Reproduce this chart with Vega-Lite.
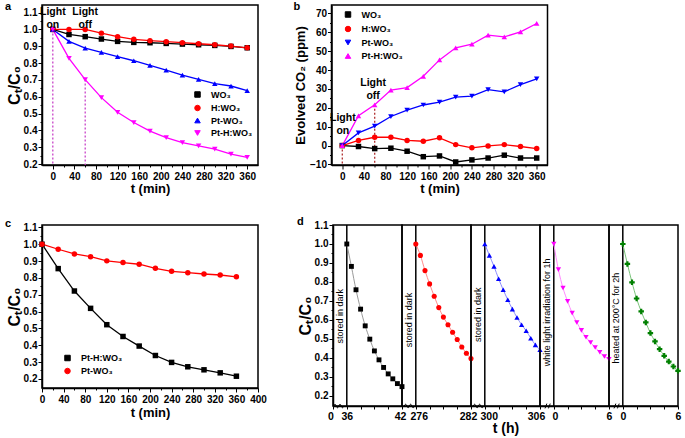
{
"$schema": "https://vega.github.io/schema/vega-lite/v6.json",
"background": "white",
"padding": {"left": 4, "top": 0, "right": 0, "bottom": 0},
"config": {
  "font": "Liberation Sans",
  "view": {"stroke": "black", "strokeWidth": 1.5},
  "axis": {"labelFont": "Liberation Sans", "labelFontWeight": "bold", "labelFontSize": 10, "labelColor": "black", "titleFont": "Liberation Sans", "titleFontWeight": "bold", "titleColor": "black", "domainColor": "black", "domainWidth": 1.5, "tickColor": "black", "tickWidth": 1, "tickSize": 3, "labelPadding": 1, "grid": false, "labelFlush": false, "labelOverlap": false},
  "legend": {"labelFont": "Liberation Sans", "labelFontWeight": "bold", "labelFontSize": 9, "labelColor": "black", "padding": 0, "symbolSize": 30, "symbolStrokeWidth": 1, "symbolOffset": 5, "labelOffset": 9, "rowPadding": 2, "orient": "none"},
  "title": {"font": "Liberation Sans", "fontWeight": "bold", "fontSize": 11, "color": "black", "anchor": "start", "frame": "group", "offset": 2},
  "text": {"font": "Liberation Sans", "color": "black"}
},
"datasets": {
  "a": [
    {"t":0,"v":1.0,"s":"WO₃"},{"t":30,"v":0.970,"s":"WO₃"},{"t":60,"v":0.957,"s":"WO₃"},{"t":90,"v":0.943,"s":"WO₃"},{"t":120,"v":0.929,"s":"WO₃"},{"t":150,"v":0.923,"s":"WO₃"},{"t":180,"v":0.921,"s":"WO₃"},{"t":210,"v":0.917,"s":"WO₃"},{"t":240,"v":0.913,"s":"WO₃"},{"t":270,"v":0.909,"s":"WO₃"},{"t":300,"v":0.905,"s":"WO₃"},{"t":330,"v":0.899,"s":"WO₃"},{"t":360,"v":0.891,"s":"WO₃"},
    {"t":0,"v":1.0,"s":"H:WO₃"},{"t":30,"v":1.0,"s":"H:WO₃"},{"t":60,"v":1.0,"s":"H:WO₃"},{"t":90,"v":0.978,"s":"H:WO₃"},{"t":120,"v":0.957,"s":"H:WO₃"},{"t":150,"v":0.941,"s":"H:WO₃"},{"t":180,"v":0.933,"s":"H:WO₃"},{"t":210,"v":0.927,"s":"H:WO₃"},{"t":240,"v":0.921,"s":"H:WO₃"},{"t":270,"v":0.915,"s":"H:WO₃"},{"t":300,"v":0.909,"s":"H:WO₃"},{"t":330,"v":0.901,"s":"H:WO₃"},{"t":360,"v":0.891,"s":"H:WO₃"},
    {"t":0,"v":1.0,"s":"Pt-WO₃"},{"t":30,"v":0.929,"s":"Pt-WO₃"},{"t":60,"v":0.889,"s":"Pt-WO₃"},{"t":90,"v":0.864,"s":"Pt-WO₃"},{"t":120,"v":0.838,"s":"Pt-WO₃"},{"t":150,"v":0.814,"s":"Pt-WO₃"},{"t":180,"v":0.787,"s":"Pt-WO₃"},{"t":210,"v":0.759,"s":"Pt-WO₃"},{"t":240,"v":0.729,"s":"Pt-WO₃"},{"t":270,"v":0.704,"s":"Pt-WO₃"},{"t":300,"v":0.678,"s":"Pt-WO₃"},{"t":330,"v":0.664,"s":"Pt-WO₃"},{"t":360,"v":0.637,"s":"Pt-WO₃"},
    {"t":0,"v":1.0,"s":"Pt-H:WO₃"},{"t":30,"v":0.828,"s":"Pt-H:WO₃"},{"t":60,"v":0.702,"s":"Pt-H:WO₃"},{"t":90,"v":0.595,"s":"Pt-H:WO₃"},{"t":120,"v":0.508,"s":"Pt-H:WO₃"},{"t":150,"v":0.447,"s":"Pt-H:WO₃"},{"t":180,"v":0.396,"s":"Pt-H:WO₃"},{"t":210,"v":0.358,"s":"Pt-H:WO₃"},{"t":240,"v":0.328,"s":"Pt-H:WO₃"},{"t":270,"v":0.309,"s":"Pt-H:WO₃"},{"t":300,"v":0.289,"s":"Pt-H:WO₃"},{"t":330,"v":0.259,"s":"Pt-H:WO₃"},{"t":360,"v":0.240,"s":"Pt-H:WO₃"}
  ],
  "b": [
    {"t":0,"v":0,"s":"WO₃"},{"t":30,"v":-0.5,"s":"WO₃"},{"t":60,"v":-1.6,"s":"WO₃"},{"t":90,"v":-1.4,"s":"WO₃"},{"t":120,"v":-3.0,"s":"WO₃"},{"t":150,"v":-5.9,"s":"WO₃"},{"t":180,"v":-5.5,"s":"WO₃"},{"t":210,"v":-8.7,"s":"WO₃"},{"t":240,"v":-7.6,"s":"WO₃"},{"t":270,"v":-6.6,"s":"WO₃"},{"t":300,"v":-5.1,"s":"WO₃"},{"t":330,"v":-6.6,"s":"WO₃"},{"t":360,"v":-6.6,"s":"WO₃"},
    {"t":0,"v":0,"s":"H:WO₃"},{"t":30,"v":2.7,"s":"H:WO₃"},{"t":60,"v":4.4,"s":"H:WO₃"},{"t":90,"v":4.4,"s":"H:WO₃"},{"t":120,"v":2.7,"s":"H:WO₃"},{"t":150,"v":2.3,"s":"H:WO₃"},{"t":180,"v":4.1,"s":"H:WO₃"},{"t":210,"v":0.5,"s":"H:WO₃"},{"t":240,"v":-1.2,"s":"H:WO₃"},{"t":270,"v":-0.2,"s":"H:WO₃"},{"t":300,"v":0.5,"s":"H:WO₃"},{"t":330,"v":-0.5,"s":"H:WO₃"},{"t":360,"v":-1.6,"s":"H:WO₃"},
    {"t":0,"v":0,"s":"Pt-WO₃"},{"t":30,"v":6.7,"s":"Pt-WO₃"},{"t":60,"v":10.3,"s":"Pt-WO₃"},{"t":90,"v":15.4,"s":"Pt-WO₃"},{"t":120,"v":18.8,"s":"Pt-WO₃"},{"t":150,"v":21.5,"s":"Pt-WO₃"},{"t":180,"v":23.0,"s":"Pt-WO₃"},{"t":210,"v":25.7,"s":"Pt-WO₃"},{"t":240,"v":26.2,"s":"Pt-WO₃"},{"t":270,"v":29.6,"s":"Pt-WO₃"},{"t":300,"v":28.5,"s":"Pt-WO₃"},{"t":330,"v":32.3,"s":"Pt-WO₃"},{"t":360,"v":35.3,"s":"Pt-WO₃"},
    {"t":0,"v":0,"s":"Pt-H:WO₃"},{"t":30,"v":15.8,"s":"Pt-H:WO₃"},{"t":60,"v":21.6,"s":"Pt-H:WO₃"},{"t":90,"v":29.4,"s":"Pt-H:WO₃"},{"t":120,"v":30.7,"s":"Pt-H:WO₃"},{"t":150,"v":36.7,"s":"Pt-H:WO₃"},{"t":180,"v":45.4,"s":"Pt-H:WO₃"},{"t":210,"v":51.8,"s":"Pt-H:WO₃"},{"t":240,"v":53.7,"s":"Pt-H:WO₃"},{"t":270,"v":58.5,"s":"Pt-H:WO₃"},{"t":300,"v":57.6,"s":"Pt-H:WO₃"},{"t":330,"v":60.3,"s":"Pt-H:WO₃"},{"t":360,"v":64.7,"s":"Pt-H:WO₃"}
  ],
  "c": [
    {"t":0,"v":1.0,"s":"Pt-H:WO₃"},{"t":30,"v":0.855,"s":"Pt-H:WO₃"},{"t":60,"v":0.722,"s":"Pt-H:WO₃"},{"t":90,"v":0.619,"s":"Pt-H:WO₃"},{"t":120,"v":0.522,"s":"Pt-H:WO₃"},{"t":150,"v":0.452,"s":"Pt-H:WO₃"},{"t":180,"v":0.395,"s":"Pt-H:WO₃"},{"t":210,"v":0.339,"s":"Pt-H:WO₃"},{"t":240,"v":0.298,"s":"Pt-H:WO₃"},{"t":270,"v":0.272,"s":"Pt-H:WO₃"},{"t":300,"v":0.254,"s":"Pt-H:WO₃"},{"t":330,"v":0.236,"s":"Pt-H:WO₃"},{"t":360,"v":0.216,"s":"Pt-H:WO₃"},
    {"t":0,"v":1.0,"s":"Pt-WO₃"},{"t":30,"v":0.970,"s":"Pt-WO₃"},{"t":60,"v":0.942,"s":"Pt-WO₃"},{"t":90,"v":0.926,"s":"Pt-WO₃"},{"t":120,"v":0.901,"s":"Pt-WO₃"},{"t":150,"v":0.891,"s":"Pt-WO₃"},{"t":180,"v":0.881,"s":"Pt-WO₃"},{"t":210,"v":0.857,"s":"Pt-WO₃"},{"t":240,"v":0.839,"s":"Pt-WO₃"},{"t":270,"v":0.831,"s":"Pt-WO₃"},{"t":300,"v":0.823,"s":"Pt-WO₃"},{"t":330,"v":0.817,"s":"Pt-WO₃"},{"t":360,"v":0.806,"s":"Pt-WO₃"}
  ],
  "d": [
    {"seg":1,"t":36,"v":1.0},{"seg":1,"t":36.5,"v":0.882},{"seg":1,"t":37,"v":0.759},{"seg":1,"t":37.5,"v":0.657},{"seg":1,"t":38,"v":0.569},{"seg":1,"t":38.5,"v":0.499},{"seg":1,"t":39,"v":0.437},{"seg":1,"t":39.5,"v":0.390},{"seg":1,"t":40,"v":0.350},{"seg":1,"t":40.5,"v":0.316},{"seg":1,"t":41,"v":0.290},{"seg":1,"t":41.5,"v":0.265},{"seg":1,"t":42,"v":0.249},
    {"seg":2,"t":276,"v":1.0},{"seg":2,"t":276.5,"v":0.94},{"seg":2,"t":277,"v":0.86},{"seg":2,"t":277.5,"v":0.79},{"seg":2,"t":278,"v":0.725},{"seg":2,"t":278.5,"v":0.665},{"seg":2,"t":279,"v":0.615},{"seg":2,"t":279.5,"v":0.575},{"seg":2,"t":280,"v":0.535},{"seg":2,"t":280.5,"v":0.497},{"seg":2,"t":281,"v":0.458},{"seg":2,"t":281.5,"v":0.425},{"seg":2,"t":282,"v":0.397},
    {"seg":3,"t":300,"v":1.0},{"seg":3,"t":300.5,"v":0.940},{"seg":3,"t":301,"v":0.882},{"seg":3,"t":301.5,"v":0.817},{"seg":3,"t":302,"v":0.759},{"seg":3,"t":302.5,"v":0.706},{"seg":3,"t":303,"v":0.657},{"seg":3,"t":303.5,"v":0.613},{"seg":3,"t":304,"v":0.575},{"seg":3,"t":304.5,"v":0.543},{"seg":3,"t":305,"v":0.504},{"seg":3,"t":305.5,"v":0.469},{"seg":3,"t":306,"v":0.443},
    {"seg":4,"t":0,"v":1.0},{"seg":4,"t":0.5,"v":0.865},{"seg":4,"t":1,"v":0.768},{"seg":4,"t":1.5,"v":0.698},{"seg":4,"t":2,"v":0.636},{"seg":4,"t":2.5,"v":0.587},{"seg":4,"t":3,"v":0.545},{"seg":4,"t":3.5,"v":0.509},{"seg":4,"t":4,"v":0.481},{"seg":4,"t":4.5,"v":0.455},{"seg":4,"t":5,"v":0.430},{"seg":4,"t":5.5,"v":0.408},{"seg":4,"t":6,"v":0.393},
    {"seg":5,"t":0,"v":1.0},{"seg":5,"t":0.5,"v":0.895},{"seg":5,"t":1,"v":0.798},{"seg":5,"t":1.5,"v":0.713},{"seg":5,"t":2,"v":0.645},{"seg":5,"t":2.5,"v":0.587},{"seg":5,"t":3,"v":0.531},{"seg":5,"t":3.5,"v":0.487},{"seg":5,"t":4,"v":0.446},{"seg":5,"t":4.5,"v":0.411},{"seg":5,"t":5,"v":0.381},{"seg":5,"t":5.5,"v":0.355},{"seg":5,"t":6,"v":0.332}
  ]
},
"resolve": {"scale": {"color": "independent", "shape": "independent"}},
"spacing": 19,
"vconcat": [
 {
  "hconcat": [
   {
    "width": 216, "height": 160,
    "title": {"text": "a", "dx": -37, "dy": 9},
    "data": {"name": "a"},
    "encoding": {
      "x": {"field": "t", "type": "quantitative", "scale": {"domain": [-20, 380], "nice": false, "zero": false},
            "axis": {"values": [0,20,40,60,80,100,120,140,160,180,200,220,240,260,280,300,320,340,360], "labelExpr": "datum.value % 40 === 0 ? format(datum.value,'d') : ''", "tickSize": {"condition": {"test": "datum.value % 40 === 0", "value": 4}, "value": 2}, "title": "t (min)", "titleFontSize": 13, "titlePadding": 1, "labelPadding": 2}},
      "y": {"field": "v", "type": "quantitative", "scale": {"domain": [0.195, 1.145], "nice": false, "zero": false},
            "axis": {"values": [0.2,0.25,0.3,0.35,0.4,0.45,0.5,0.55,0.6,0.65,0.7,0.75,0.8,0.85,0.9,0.95,1.0,1.05,1.1], "labelExpr": "abs(datum.value*10 - round(datum.value*10)) < 0.001 ? format(datum.value,'.1f') : ''", "tickSize": {"condition": {"test": "abs(datum.value*10 - round(datum.value*10)) < 0.001", "value": 4}, "value": 2}, "title": "Cₜ/C₀", "titleFontSize": 16, "titlePadding": 1}}
    },
    "layer": [
      {"data": {"values": [{"t": 0, "v": 1.0}, {"t": 60, "v": 0.702}]}, "mark": {"type": "rule", "color": "#c844c8", "strokeDash": [2, 2], "strokeWidth": 1.3}, "encoding": {"y2": {"datum": 0.195}}},
      {"mark": {"type": "line", "strokeWidth": 1.3}, "encoding": {"color": {"field": "s", "type": "nominal", "scale": {"domain": ["WO₃","H:WO₃","Pt-WO₃","Pt-H:WO₃"], "range": ["black","#ff0000","#0000ff","#ff00ff"]},
        "legend": {"title": null, "legendX": 146, "legendY": 85, "rowPadding": 2.5}}}},
      {"mark": {"type": "point", "filled": true, "size": 30, "opacity": 1}, "encoding": {
        "color": {"field": "s", "type": "nominal", "scale": {"domain": ["WO₃","H:WO₃","Pt-WO₃","Pt-H:WO₃"], "range": ["black","#ff0000","#0000ff","#ff00ff"]}, "legend": null},
        "shape": {"field": "s", "type": "nominal", "scale": {"domain": ["WO₃","H:WO₃","Pt-WO₃","Pt-H:WO₃"], "range": ["square","circle","triangle-up","triangle-down"]}, "legend": null}}},
      {"data": {"values": [{"t": 0, "v": 1.135, "label": ["Light", "on"]}, {"t": 60, "v": 1.135, "label": ["Light", "off"]}]}, "mark": {"type": "text", "baseline": "top", "fontWeight": "bold", "fontSize": 10.5, "lineHeight": 13}, "encoding": {"text": {"field": "label"}}}
    ]
   },
   {
    "width": 216, "height": 160,
    "title": {"text": "b", "dx": -38, "dy": 9},
    "data": {"name": "b"},
    "encoding": {
      "x": {"field": "t", "type": "quantitative", "scale": {"domain": [-20, 380], "nice": false, "zero": false},
            "axis": {"values": [0,20,40,60,80,100,120,140,160,180,200,220,240,260,280,300,320,340,360], "labelExpr": "datum.value % 40 === 0 ? format(datum.value,'d') : ''", "tickSize": {"condition": {"test": "datum.value % 40 === 0", "value": 4}, "value": 2}, "title": "t (min)", "titleFontSize": 13, "titlePadding": 1, "labelPadding": 2}},
      "y": {"field": "v", "type": "quantitative", "scale": {"domain": [-10.3, 74.5], "nice": false, "zero": false},
            "axis": {"values": [-10,-5,0,5,10,15,20,25,30,35,40,45,50,55,60,65,70], "labelExpr": "datum.value % 10 === 0 ? format(datum.value,'d') : ''", "tickSize": {"condition": {"test": "datum.value % 10 === 0", "value": 4}, "value": 2}, "title": "Evolved CO₂ (ppm)", "titleFontSize": 13, "titlePadding": 2}}
    },
    "layer": [
      {"data": {"values": [{"t": 0, "v": 0}, {"t": 60, "v": 21.6}]}, "mark": {"type": "rule", "color": "#b03030", "strokeDash": [2, 2], "strokeWidth": 1.3}, "encoding": {"y2": {"datum": -10.3}}},
      {"mark": {"type": "line", "strokeWidth": 1.3}, "encoding": {"color": {"field": "s", "type": "nominal", "scale": {"domain": ["WO₃","H:WO₃","Pt-WO₃","Pt-H:WO₃"], "range": ["black","#ff0000","#0000ff","#ff00ff"]},
        "legend": {"title": null, "legendX": 7, "legendY": 5, "rowPadding": 3.5}}}},
      {"mark": {"type": "point", "filled": true, "size": 30, "opacity": 1}, "encoding": {
        "color": {"field": "s", "type": "nominal", "scale": {"domain": ["WO₃","H:WO₃","Pt-WO₃","Pt-H:WO₃"], "range": ["black","#ff0000","#0000ff","#ff00ff"]}, "legend": null},
        "shape": {"field": "s", "type": "nominal", "scale": {"domain": ["WO₃","H:WO₃","Pt-WO₃","Pt-H:WO₃"], "range": ["square","circle","triangle-down","triangle-up"]}, "legend": null}}},
      {"data": {"values": [{"t": 1, "v": 17.5, "label": ["Light", "on"]}, {"t": 57, "v": 36, "label": ["Light", "off"]}]}, "mark": {"type": "text", "baseline": "top", "fontWeight": "bold", "fontSize": 10.5, "lineHeight": 13}, "encoding": {"text": {"field": "label"}}}
    ]
   }
  ],
  "spacing": 73.5,
  "bounds": "flush",
  "resolve": {"scale": {"color": "independent", "shape": "independent"}}
 },
 {
  "hconcat": [
   {
    "width": 216, "height": 163,
    "title": {"text": "c", "dx": -37, "dy": 9},
    "data": {"name": "c"},
    "encoding": {
      "x": {"field": "t", "type": "quantitative", "scale": {"domain": [0, 400], "nice": false, "zero": false},
            "axis": {"values": [0,20,40,60,80,100,120,140,160,180,200,220,240,260,280,300,320,340,360,380,400], "labelExpr": "datum.value % 40 === 0 ? format(datum.value,'d') : ''", "tickSize": {"condition": {"test": "datum.value % 40 === 0", "value": 4}, "value": 2}, "title": "t (min)", "titleFontSize": 13, "titlePadding": 2, "labelPadding": 2}},
      "y": {"field": "v", "type": "quantitative", "scale": {"domain": [0.146, 1.114], "nice": false, "zero": false},
            "axis": {"values": [0.2,0.25,0.3,0.35,0.4,0.45,0.5,0.55,0.6,0.65,0.7,0.75,0.8,0.85,0.9,0.95,1.0,1.05,1.1], "labelExpr": "abs(datum.value*10 - round(datum.value*10)) < 0.001 ? format(datum.value,'.1f') : ''", "tickSize": {"condition": {"test": "abs(datum.value*10 - round(datum.value*10)) < 0.001", "value": 4}, "value": 2}, "title": "Cₜ/C₀", "titleFontSize": 16, "titlePadding": 1}}
    },
    "layer": [
      {"mark": {"type": "line", "strokeWidth": 1.3}, "encoding": {"color": {"field": "s", "type": "nominal", "scale": {"domain": ["Pt-H:WO₃","Pt-WO₃"], "range": ["black","#ff0000"]},
        "legend": {"title": null, "legendX": 16, "legendY": 128.5, "rowPadding": 2}}}},
      {"mark": {"type": "point", "filled": true, "size": 30, "opacity": 1}, "encoding": {
        "color": {"field": "s", "type": "nominal", "scale": {"domain": ["Pt-H:WO₃","Pt-WO₃"], "range": ["black","#ff0000"]}, "legend": null},
        "shape": {"field": "s", "type": "nominal", "scale": {"domain": ["Pt-H:WO₃","Pt-WO₃"], "range": ["square","circle"]}, "legend": null}}}
    ]
   },
   {
    "width": 75, "height": 10,
    "data": {"values": []},
    "mark": "point",
    "encoding": {},
    "view": {"stroke": null}
   },
   {
    "width": 69, "height": 181,
    "title": {"text": "d", "dx": -36, "dy": 9},
    "encoding": {
      "x": {"field": "t", "type": "quantitative", "scale": {"domain": [0, 36, 42], "range": [0, 13.8, 69], "nice": false, "zero": false},
        "axis": {"values": [0, 36, 37.5, 39, 40.5, 42], "labelExpr": "indexof([0,36,42], datum.value) >= 0 ? format(datum.value,'d') : ''", "labelOffset": {"condition": [{"test": "datum.value === 0", "value": -2.5}, {"test": "datum.value === 42", "value": -2}], "value": 0}, "labelFontSize": 10.5, "labelPadding": 2, "title": null}},
      "y": {"field": "v", "type": "quantitative", "scale": {"domain": [0.147, 1.1], "nice": false, "zero": false},
        "axis": {"values": [0.2,0.25,0.3,0.35,0.4,0.45,0.5,0.55,0.6,0.65,0.7,0.75,0.8,0.85,0.9,0.95,1.0,1.05,1.1], "labelExpr": "abs(datum.value*10 - round(datum.value*10)) < 0.001 ? format(datum.value,'.1f') : ''", "tickSize": {"condition": {"test": "abs(datum.value*10 - round(datum.value*10)) < 0.001", "value": 4}, "value": 2}, "title": "Cₜ/C₀", "titleFontSize": 16, "titlePadding": 1}}
    },
    "layer": [
      {"data": {"values": [{"t": 36, "v": 0.147}]}, "mark": {"type": "rule", "color": "black", "strokeWidth": 1.5}, "encoding": {"y2": {"datum": 1.1}}},
      {"data": {"name": "d"}, "transform": [{"filter": "datum.seg === 1"}], "mark": {"type": "line", "color": "#9a9a9a", "strokeWidth": 1, "interpolate": "monotone"}},
      {"data": {"name": "d"}, "transform": [{"filter": "datum.seg === 1"}], "mark": {"type": "point", "shape": "square", "filled": true, "color": "black", "size": 24, "opacity": 1}},
      {"data": {"values": [{"t": 19, "v": 0.62, "label": "stored in dark"}]}, "mark": {"type": "text", "angle": 270, "fontSize": 9, "align": "center", "baseline": "middle"}, "encoding": {"text": {"field": "label"}}},
      {"data": {"values": [{"t": 15, "v": 0.147}]}, "mark": {"type": "point", "shape": "M-1,0Q-0.75,-0.7 -0.5,0Q-0.25,0.7 0,0Q0.25,-0.7 0.5,0Q0.75,0.7 1,0", "size": 100, "filled": false, "color": "black", "strokeWidth": 1, "opacity": 1}}
    ]
   },
   {
    "width": 69, "height": 181,
    "encoding": {
      "x": {"field": "t", "type": "quantitative", "scale": {"domain": [274.5, 282], "nice": false, "zero": false},
        "axis": {"values": [276, 277.5, 279, 280.5, 282], "labelExpr": "indexof([276,282], datum.value) >= 0 ? format(datum.value,'d') : ''", "labelOffset": {"condition": [{"test": "datum.value === 276", "value": 3}, {"test": "datum.value === 282", "value": -3}], "value": 0}, "labelFontSize": 10.5, "labelPadding": 2, "title": null}},
      "y": {"field": "v", "type": "quantitative", "scale": {"domain": [0.147, 1.1], "nice": false, "zero": false}, "axis": null}
    },
    "layer": [
      {"data": {"values": [{"t": 276, "v": 0.147}]}, "mark": {"type": "rule", "color": "black", "strokeWidth": 1.5}, "encoding": {"y2": {"datum": 1.1}}},
      {"data": {"name": "d"}, "transform": [{"filter": "datum.seg === 2"}], "mark": {"type": "line", "color": "#ff8a8a", "strokeWidth": 1, "interpolate": "monotone"}},
      {"data": {"name": "d"}, "transform": [{"filter": "datum.seg === 2"}], "mark": {"type": "point", "shape": "circle", "filled": true, "color": "#ff0000", "size": 26, "opacity": 1}},
      {"data": {"values": [{"t": 275.3, "v": 0.6, "label": "stored in dark"}]}, "mark": {"type": "text", "angle": 270, "fontSize": 9, "align": "center", "baseline": "middle"}, "encoding": {"text": {"field": "label"}}},
      {"data": {"values": [{"t": 275.3, "v": 0.147}]}, "mark": {"type": "point", "shape": "M-1,0Q-0.75,-0.7 -0.5,0Q-0.25,0.7 0,0Q0.25,-0.7 0.5,0Q0.75,0.7 1,0", "size": 100, "filled": false, "color": "black", "strokeWidth": 1, "opacity": 1}}
    ]
   },
   {
    "width": 69, "height": 181,
    "encoding": {
      "x": {"field": "t", "type": "quantitative", "scale": {"domain": [298.5, 306], "nice": false, "zero": false},
        "axis": {"values": [300, 301.5, 303, 304.5, 306], "labelExpr": "indexof([300,306], datum.value) >= 0 ? format(datum.value,'d') : ''", "labelOffset": {"condition": [{"test": "datum.value === 300", "value": 4}, {"test": "datum.value === 306", "value": -4}], "value": 0}, "labelFontSize": 10.5, "labelPadding": 2, "title": "t (h)", "titleFontSize": 14, "titlePadding": 0}},
      "y": {"field": "v", "type": "quantitative", "scale": {"domain": [0.147, 1.1], "nice": false, "zero": false}, "axis": null}
    },
    "layer": [
      {"data": {"values": [{"t": 300, "v": 0.147}]}, "mark": {"type": "rule", "color": "black", "strokeWidth": 1.5}, "encoding": {"y2": {"datum": 1.1}}},
      {"data": {"name": "d"}, "transform": [{"filter": "datum.seg === 3"}], "mark": {"type": "line", "color": "#8a8aff", "strokeWidth": 1, "interpolate": "monotone"}},
      {"data": {"name": "d"}, "transform": [{"filter": "datum.seg === 3"}], "mark": {"type": "point", "shape": "triangle-up", "filled": true, "color": "#0000ff", "size": 28, "opacity": 1}},
      {"data": {"values": [{"t": 299.3, "v": 0.627, "label": "stored in dark"}]}, "mark": {"type": "text", "angle": 270, "fontSize": 9, "align": "center", "baseline": "middle"}, "encoding": {"text": {"field": "label"}}},
      {"data": {"values": [{"t": 299.3, "v": 0.147}]}, "mark": {"type": "point", "shape": "M-1,0Q-0.75,-0.7 -0.5,0Q-0.25,0.7 0,0Q0.25,-0.7 0.5,0Q0.75,0.7 1,0", "size": 100, "filled": false, "color": "black", "strokeWidth": 1, "opacity": 1}}
    ]
   },
   {
    "width": 69, "height": 181,
    "encoding": {
      "x": {"field": "t", "type": "quantitative", "scale": {"domain": [-1.5, 6], "nice": false, "zero": false},
        "axis": {"values": [0, 1.5, 3, 4.5, 6], "labelExpr": "indexof([0,6], datum.value) >= 0 ? format(datum.value,'d') : ''", "labelOffset": {"condition": [{"test": "datum.value === 0", "value": 1}], "value": 0}, "labelFontSize": 10.5, "labelPadding": 2, "title": null}},
      "y": {"field": "v", "type": "quantitative", "scale": {"domain": [0.147, 1.1], "nice": false, "zero": false}, "axis": null}
    },
    "layer": [
      {"data": {"values": [{"t": 0, "v": 0.147}]}, "mark": {"type": "rule", "color": "black", "strokeWidth": 1.5}, "encoding": {"y2": {"datum": 1.1}}},
      {"data": {"name": "d"}, "transform": [{"filter": "datum.seg === 4"}], "mark": {"type": "line", "color": "#ff8aff", "strokeWidth": 1, "interpolate": "monotone"}},
      {"data": {"name": "d"}, "transform": [{"filter": "datum.seg === 4"}], "mark": {"type": "point", "shape": "triangle-down", "filled": true, "color": "#ff00ff", "size": 28, "opacity": 1}},
      {"data": {"values": [{"t": -0.75, "v": 0.64, "label": "white light irradiation for 1h"}]}, "mark": {"type": "text", "angle": 270, "fontSize": 9, "align": "center", "baseline": "middle"}, "encoding": {"text": {"field": "label"}}},
      {"data": {"values": [{"t": -0.65, "v": 0.147}]}, "mark": {"type": "point", "shape": "M-0.7,0.6L-0.25,-0.6M0.15,0.6L0.6,-0.6", "size": 64, "filled": false, "color": "black", "strokeWidth": 1, "opacity": 1}}
    ]
   },
   {
    "width": 69, "height": 181,
    "encoding": {
      "x": {"field": "t", "type": "quantitative", "scale": {"domain": [-1.5, 6], "nice": false, "zero": false},
        "axis": {"values": [0, 1.5, 3, 4.5, 6], "labelExpr": "indexof([0,6], datum.value) >= 0 ? format(datum.value,'d') : ''", "labelFontSize": 10.5, "labelPadding": 2, "title": null}},
      "y": {"field": "v", "type": "quantitative", "scale": {"domain": [0.147, 1.1], "nice": false, "zero": false}, "axis": null}
    },
    "layer": [
      {"data": {"values": [{"t": 0, "v": 0.147}]}, "mark": {"type": "rule", "color": "black", "strokeWidth": 1.5}, "encoding": {"y2": {"datum": 1.1}}},
      {"data": {"name": "d"}, "transform": [{"filter": "datum.seg === 5"}], "mark": {"type": "line", "color": "#7cc47c", "strokeWidth": 1, "interpolate": "monotone"}},
      {"data": {"name": "d"}, "transform": [{"filter": "datum.seg === 5"}], "mark": {"type": "point", "shape": "cross", "filled": true, "color": "#008000", "size": 30, "opacity": 1}},
      {"data": {"values": [{"t": -0.75, "v": 0.61, "label": "heated at 200°C for 2h"}]}, "mark": {"type": "text", "angle": 270, "fontSize": 9, "align": "center", "baseline": "middle"}, "encoding": {"text": {"field": "label"}}},
      {"data": {"values": [{"t": -0.65, "v": 0.147}]}, "mark": {"type": "point", "shape": "M-0.7,0.6L-0.25,-0.6M0.15,0.6L0.6,-0.6", "size": 64, "filled": false, "color": "black", "strokeWidth": 1, "opacity": 1}}
    ]
   }
  ],
  "spacing": 0,
  "bounds": "flush",
  "resolve": {"scale": {"color": "independent", "shape": "independent"}}
 }
]
}
